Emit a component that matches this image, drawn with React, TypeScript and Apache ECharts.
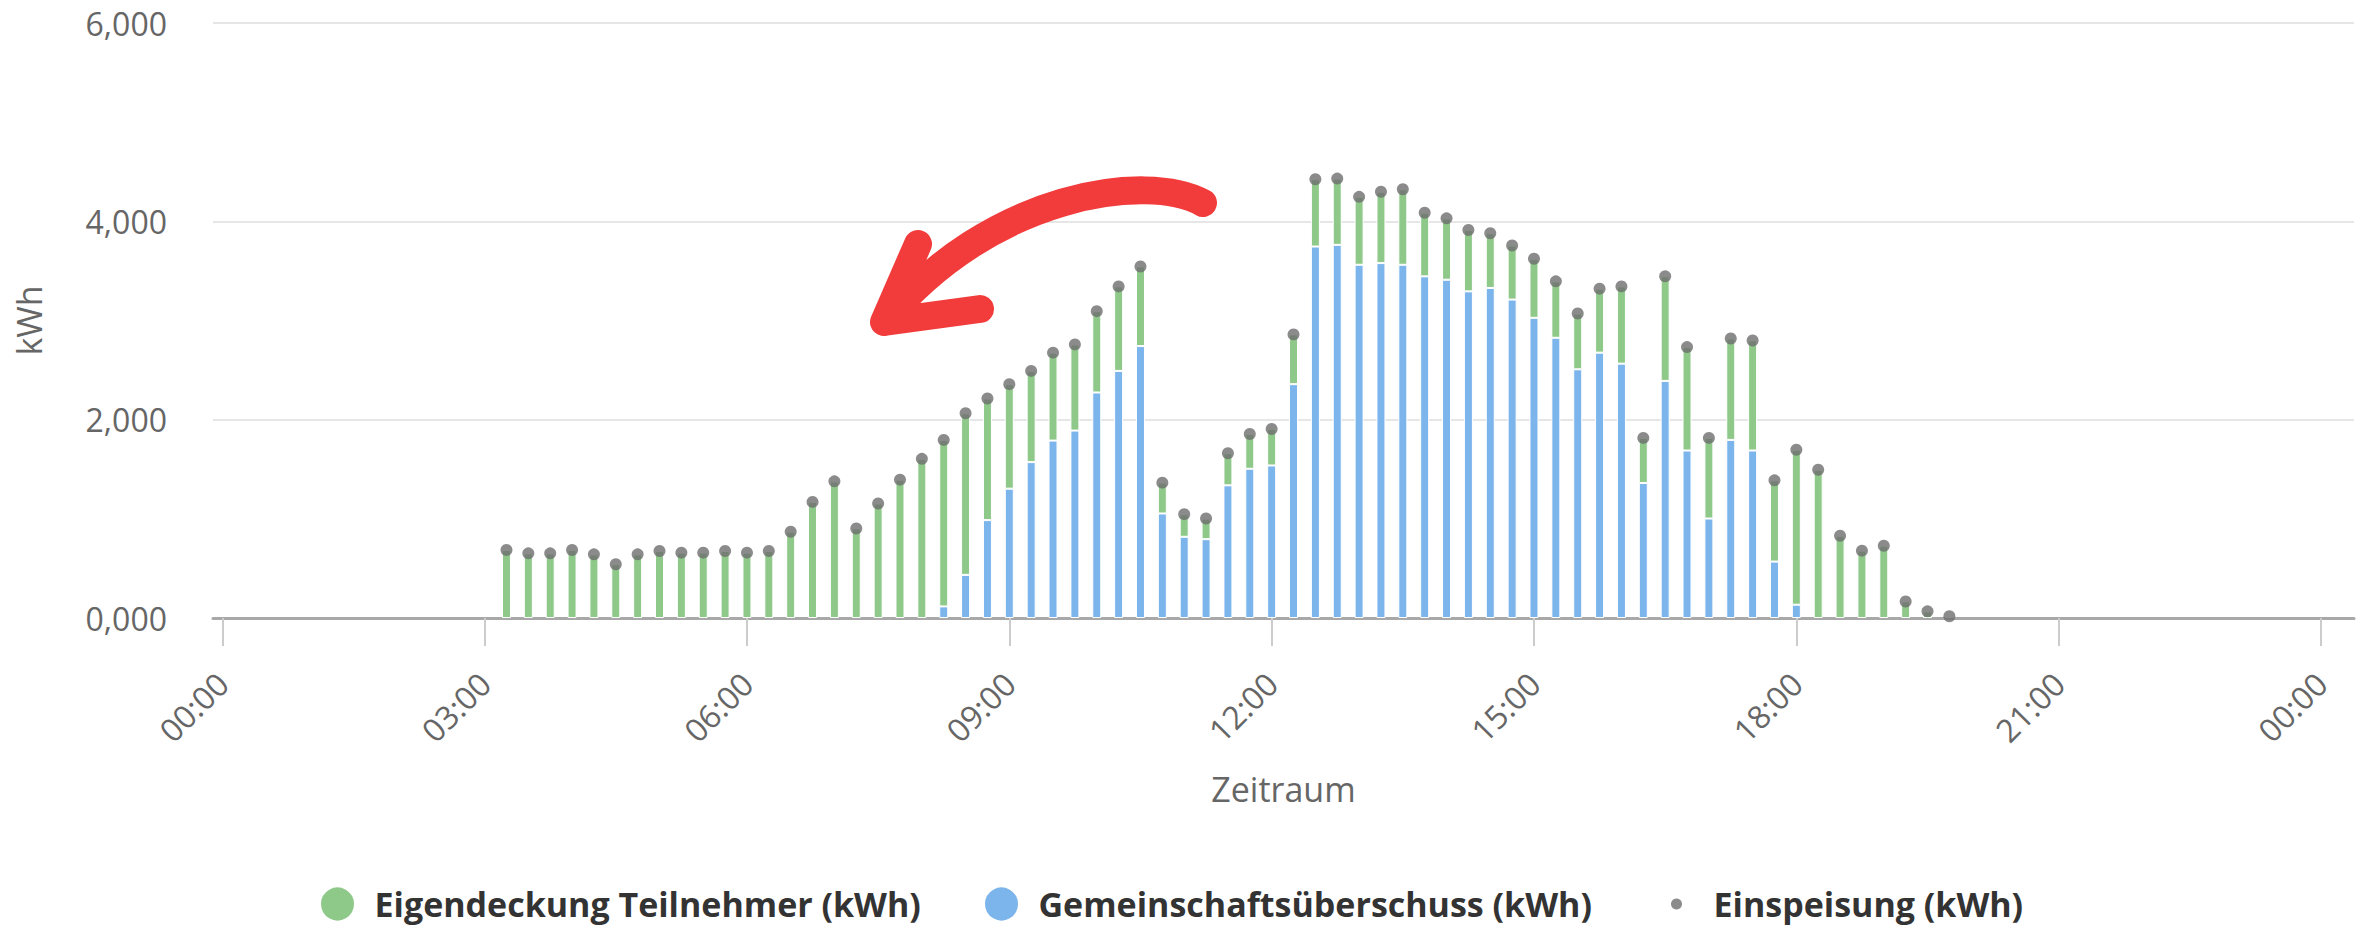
import React, { useEffect, useRef } from "react";
import * as echarts from "echarts";

const times = [
  "03:15", "03:30", "03:45",
  "04:00", "04:15", "04:30", "04:45",
  "05:00", "05:15", "05:30", "05:45",
  "06:00", "06:15", "06:30", "06:45",
  "07:00", "07:15", "07:30", "07:45",
  "08:00", "08:15", "08:30", "08:45",
  "09:00", "09:15", "09:30", "09:45",
  "10:00", "10:15", "10:30", "10:45",
  "11:00", "11:15", "11:30", "11:45",
  "12:00", "12:15", "12:30", "12:45",
  "13:00", "13:15", "13:30", "13:45",
  "14:00", "14:15", "14:30", "14:45",
  "15:00", "15:15", "15:30", "15:45",
  "16:00", "16:15", "16:30", "16:45",
  "17:00", "17:15", "17:30", "17:45",
  "18:00", "18:15", "18:30", "18:45",
  "19:00", "19:15", "19:30", "19:45",
];

// Gemeinschaftsüberschuss (kWh) – blue, bottom of stack
const gemeinschaft = [
  0, 0, 0,
  0, 0, 0, 0,
  0, 0, 0, 0,
  0, 0, 0, 0,
  0, 0, 0, 0,
  0, 0.117, 0.435, 0.987,
  1.304, 1.572, 1.789, 1.890,
  2.274, 2.492, 2.742, 1.054,
  0.819, 0.795, 1.338, 1.505,
  1.538, 2.358, 3.746, 3.763,
  3.562, 3.579, 3.562, 3.445,
  3.411, 3.294, 3.328, 3.211,
  3.027, 2.826, 2.508, 2.676,
  2.565, 1.361, 2.391, 1.689,
  1.003, 1.796, 1.689, 0.569,
  0.134, 0, 0, 0,
  0, 0, 0, 0,
];

// Eigendeckung Teilnehmer (kWh) – green, top of stack
const eigendeckung = [
  0.686, 0.652, 0.652,
  0.686, 0.642, 0.542, 0.642,
  0.676, 0.659, 0.659, 0.676,
  0.659, 0.676, 0.870, 1.171,
  1.378, 0.903, 1.154, 1.395,
  1.605, 1.679, 1.629, 1.227,
  1.054, 0.920, 0.887, 0.869,
  0.820, 0.852, 0.803, 0.311,
  0.228, 0.208, 0.324, 0.351,
  0.368, 0.502, 0.679, 0.668,
  0.685, 0.719, 0.762, 0.642,
  0.619, 0.619, 0.552, 0.545,
  0.595, 0.569, 0.562, 0.645,
  0.779, 0.455, 1.054, 1.043,
  0.813, 1.023, 1.110, 0.819,
  1.562, 1.495, 0.829, 0.679,
  0.729, 0.167, 0.067, 0.017,
];

// Einspeisung (kWh) – grey dots
const einspeisung = [
  0.686, 0.652, 0.652,
  0.686, 0.642, 0.542, 0.642,
  0.676, 0.659, 0.659, 0.676,
  0.659, 0.676, 0.870, 1.171,
  1.378, 0.903, 1.154, 1.395,
  1.605, 1.796, 2.064, 2.214,
  2.358, 2.492, 2.676, 2.759,
  3.094, 3.344, 3.545, 1.365,
  1.047, 1.003, 1.662, 1.856,
  1.906, 2.860, 4.425, 4.431,
  4.247, 4.298, 4.324, 4.087,
  4.030, 3.913, 3.880, 3.756,
  3.622, 3.395, 3.070, 3.321,
  3.344, 1.816, 3.445, 2.732,
  1.816, 2.819, 2.799, 1.388,
  1.696, 1.495, 0.829, 0.679,
  0.729, 0.167, 0.067, 0.017,
];

const xTickHours = [0, 3, 6, 9, 12, 15, 18, 21, 24];
const yTicks = [0, 2, 4, 6];

const NAME_GREEN = "Eigendeckung Teilnehmer (kWh)";
const NAME_BLUE = "Gemeinschaftsüberschuss (kWh)";
const NAME_GREY = "Einspeisung (kWh)";

const ARROW_D =
  "M 1203 203 C 1148 172 990 193 884 322 M 918 244 L 884 322 L 980 309";

let registered = false;
function registerArrow() {
  if (registered) return;
  echarts.graphic.registerShape("redArrow", echarts.graphic.extendPath(ARROW_D, {}));
  registered = true;
}

const toHours = (t: string) => {
  const [h, m] = t.split(":").map(Number);
  return h + m / 60;
};
const pad = (n: number) => (n < 10 ? "0" + n : "" + n);

export default function App() {
  const ref = useRef<HTMLDivElement>(null);

  useEffect(() => {
    if (!ref.current) return;
    registerArrow();
    const chart = echarts.init(ref.current, undefined, { renderer: "svg" });
    const xs = times.map(toHours);
    const font = "Open Sans";
    const legendText = {
      fontSize: 34,
      fontWeight: "bold" as const,
      color: "#333333",
      fontFamily: font,
      lineHeight: 38,
    };
    // value first, time second: the stack is then computed on the value dimension
    const encode = { x: 1, y: 0 };
    chart.setOption({
      animation: false,
      backgroundColor: "#ffffff",
      textStyle: { fontFamily: font },
      grid: { left: 213, right: 13, top: 23, bottom: 309, containLabel: false },
      legend: [
        {
          data: [NAME_GREEN],
          left: 314,
          top: 880,
          icon: "circle",
          itemWidth: 64,
          itemHeight: 35,
          textStyle: legendText,
          selectedMode: false,
        },
        {
          data: [NAME_BLUE],
          left: 978,
          top: 880,
          icon: "circle",
          itemWidth: 64,
          itemHeight: 35,
          textStyle: legendText,
          selectedMode: false,
        },
        {
          data: [NAME_GREY],
          left: 1666,
          top: 880,
          icon: "circle",
          itemWidth: 64,
          itemHeight: 11,
          textStyle: legendText,
          selectedMode: false,
        },
      ],
      xAxis: {
        type: "value",
        min: -0.106,
        max: 24.377,
        name: "Zeitraum",
        nameLocation: "middle",
        nameGap: 154,
        nameTextStyle: { fontSize: 34, color: "#666666", fontFamily: font },
        axisLine: { show: true, lineStyle: { color: "#a8a8a8", width: 3 } },
        axisTick: {
          show: true,
          length: 28,
          customValues: xTickHours,
          lineStyle: { color: "#cccccc", width: 2 },
        },
        axisLabel: {
          customValues: xTickHours,
          rotate: 45,
          margin: 60,
          fontSize: 32,
          color: "#666666",
          fontFamily: font,
          formatter: (v: number) => pad(Math.round(v) % 24) + ":00",
        },
        splitLine: { show: false },
      },
      yAxis: {
        type: "value",
        min: yTicks[0],
        max: yTicks[yTicks.length - 1],
        interval: 2,
        name: "kWh",
        nameLocation: "middle",
        nameGap: 167,
        nameTextStyle: { fontSize: 34, color: "#666666", fontFamily: font },
        axisLine: { show: false },
        axisTick: { show: false },
        axisLabel: {
          margin: 46,
          fontSize: 32,
          color: "#666666",
          fontFamily: font,
          formatter: (v: number) => v.toFixed(3).replace(".", ","),
        },
        splitLine: { show: true, lineStyle: { color: "#e6e6e6", width: 2 } },
      },
      series: [
        {
          name: NAME_BLUE,
          type: "bar",
          stack: "total",
          barWidth: 9,
          encode,
          itemStyle: { color: "#7cb5ec", borderColor: "#ffffff", borderWidth: 1 },
          data: xs.map((x, i) => [gemeinschaft[i] === 0 ? null : gemeinschaft[i], x]),
          z: 2,
        },
        {
          name: NAME_GREEN,
          type: "bar",
          stack: "total",
          barWidth: 9,
          encode,
          itemStyle: { color: "#8fc98a", borderColor: "#ffffff", borderWidth: 1 },
          data: xs.map((x, i) => [eigendeckung[i], x]),
          z: 2,
        },
        {
          name: NAME_GREY,
          type: "scatter",
          symbol: "circle",
          symbolSize: 12,
          encode,
          itemStyle: { color: "#6e6e6e" },
          data: xs.map((x, i) => [einspeisung[i], x]),
          z: 4,
        },
      ],
      graphic: [
        {
          type: "redArrow",
          x: 0,
          y: 0,
          z: 100,
          silent: true,
          style: {
            fill: "none",
            stroke: "#f23c3c",
            lineWidth: 28,
            lineCap: "round",
            lineJoin: "round",
          },
        },
      ],
    });
    return () => chart.dispose();
  }, []);

  return (
    <div
      ref={ref}
      style={{ position: "fixed", left: 0, top: 0, width: 2367, height: 927, background: "#fff" }}
    />
  );
}
